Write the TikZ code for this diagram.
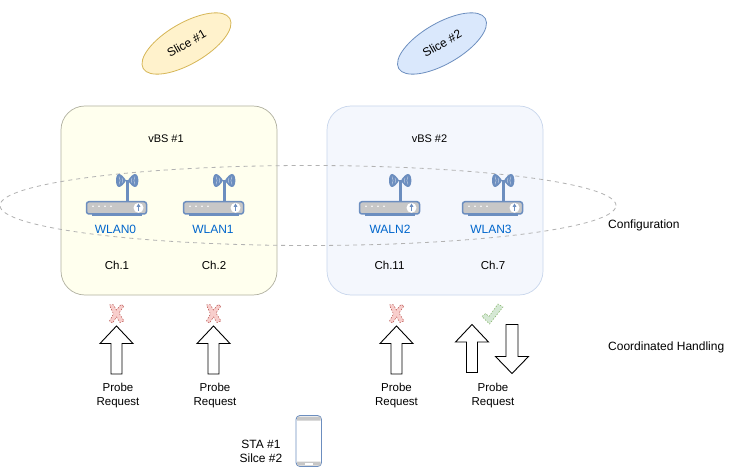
\documentclass[tikz,border=0pt]{standalone}
\usepackage{fontspec}
\setmainfont{Liberation Sans}
\usetikzlibrary{shapes.geometric}
\definecolor{rblue}{HTML}{6C8EBF}
\definecolor{wblue}{HTML}{0066CC}
\definecolor{sliceAfill}{HTML}{FFF2CC}
\definecolor{sliceAdraw}{HTML}{D6B656}
\definecolor{sliceBfill}{HTML}{DAE8FC}
\definecolor{vbsAfill}{HTML}{FFFFEE}
\definecolor{vbsAdraw}{HTML}{B0B0A0}
\definecolor{vbsBfill}{HTML}{F4F7FD}
\definecolor{vbsBdraw}{HTML}{C8D6EC}
\definecolor{xfill}{HTML}{F8CECC}
\definecolor{xdraw}{HTML}{B85450}
\definecolor{cfill}{HTML}{D5E8D4}
\definecolor{cdraw}{HTML}{82B366}
\tikzset{
  lbl/.style={font=\fontsize{12}{14}\selectfont,align=center,inner sep=0pt,text=black},
  small/.style={font=\fontsize{11}{13}\selectfont,align=center,inner sep=0pt,text=black},
  mid/.style={font=\fontsize{11.5}{14}\selectfont,align=center,inner sep=0pt,text=black},
  wlan/.style={font=\fontsize{12}{14}\selectfont,inner sep=0pt,text=wblue},
  slice/.style={ellipse,draw,line width=.8pt,rotate=30,minimum width=100pt,minimum height=41pt,inner sep=0pt,font=\fontsize{12}{14}\selectfont},
  vbs/.style={draw,line width=.7pt,rounded corners=24pt},
  arrowshape/.style={draw=black,fill=white,line width=.9pt,line join=miter},
  pics/router/.style={code={
    \draw[rblue,line width=3pt] (0,-21) -- (0,0);
    \fill[rblue] (-1,-20.5) .. controls (-3,-24) and (-6,-27) .. (-8,-27) .. controls (-12,-27) and (-12,-14) .. (-8,-14) .. controls (-6,-14) and (-3,-17) .. (-1,-20.5) -- cycle;
    \fill[rblue] (1,-20.5) .. controls (3,-24) and (6,-27) .. (8,-27) .. controls (12.5,-27) and (12.5,-14) .. (8,-14) .. controls (6,-14) and (3,-17) .. (1,-20.5) -- cycle;
    \draw[rblue!45!white,line width=.5pt]
      (-8,-24.5) .. controls (-6.5,-22) and (-6.5,-19) .. (-8,-16.5)
      (-5,-23) .. controls (-4,-21.5) and (-4,-19.5) .. (-5,-18)
      (8,-24.5) .. controls (6.5,-22) and (6.5,-19) .. (8,-16.5)
      (5,-23) .. controls (4,-21.5) and (4,-19.5) .. (5,-18);
    \fill[rblue] (-35,13) rectangle (15,15.5);
    \draw[rblue,fill=black!22,line width=1.5pt,rounded corners=2.5pt] (-40.5,0.7) rectangle (19.5,13);
    \fill[white] (-34,5.2) circle (.9pt) (-28,5.2) circle (.9pt) (-22,5.2) circle (.9pt) (-16,5.2) circle (.9pt);
    \fill[white] (11.5,6.8) circle (5pt);
    \draw[rblue,line width=1.3pt] (11.5,3.5) -- (11.5,10.5);
    \fill[rblue] (11.5,2.5) -- (9.5,6) -- (13.5,6) -- cycle;
  }},
  pics/crossmark/.style={code={
    \draw[draw=xdraw,dash pattern=on 1.5pt off 1.5pt,line width=.5pt,fill=xfill]
      (-7,-9) -- (-3.5,-9.5) -- (0,-4) -- (4.5,-9.5) -- (7.5,-8) -- (2.5,-1) -- (7.5,7) -- (3.5,8.5) -- (0,3) -- (-4,9) -- (-7,7) -- (-3,0) -- cycle;
  }},
  pics/checkmark/.style={code={
    \draw[draw=cdraw,dash pattern=on 1.5pt off 1.5pt,line width=.5pt,fill=cfill]
      (-10.5,2.5) -- (-7,-0.5) -- (-3.5,2.5) -- (5.5,-10) -- (10.5,-7) -- (-3,10) -- cycle;
  }},
  pics/uparrow/.style={code={
    \draw[arrowshape] (0,0) -- (16.5,17.5) -- (5.5,17.5) -- (5.5,48) -- (-5.5,48) -- (-5.5,17.5) -- (-16.5,17.5) -- cycle;
  }},
  pics/downarrow/.style={code={
    \draw[arrowshape] (0,49) -- (16.5,32) -- (6,32) -- (6,0) -- (-6,0) -- (-6,32) -- (-16.5,32) -- cycle;
  }}
}
\begin{document}
\begin{tikzpicture}[x=1pt,y=-1pt]
\useasboundingbox (0,0) rectangle (737,468);
\fill[white] (0,0) rectangle (737,468);

\node[slice,draw=sliceAdraw,fill=sliceAfill] (slice1) at (186.5,43.5) {Slice \#1};
\node[slice,draw=rblue,fill=sliceBfill] (slice2) at (442,43.5) {Slice \#2};

\draw[vbs,draw=vbsAdraw,fill=vbsAfill] (61,106) rectangle (277,295);
\draw[vbs,draw=vbsBdraw,fill=vbsBfill] (327,106) rectangle (543,295);
\node[small] (vbs1) at (166,139) {vBS \#1};
\node[small] (vbs2) at (429.5,139) {vBS \#2};

\node[draw=black!30,dash pattern=on 4pt off 4pt,ellipse,line width=.8pt,minimum width=616pt,minimum height=80pt,inner sep=0pt] (conf) at (308,205.5) {};

\pic at (127,201) {router};
\pic at (224,201) {router};
\pic at (400,201) {router};
\pic at (503,201) {router};

\node[wlan] (w0) at (115.5,229) {WLAN0};
\node[wlan] (w1) at (213,229) {WLAN1};
\node[wlan] (w2) at (390,229) {WALN2};
\node[wlan] (w3) at (491,229) {WLAN3};

\node[mid] (c1) at (117,265) {Ch.1};
\node[mid] (c2) at (214,265) {Ch.2};
\node[mid] (c3) at (389.5,265) {Ch.11};
\node[mid] (c4) at (493,265) {Ch.7};

\node[lbl,anchor=west] (cfg) at (608,225) {Configuration};
\node[lbl,anchor=west] (coord) at (608,347) {Coordinated Handling};

\pic at (116.5,314) {crossmark};
\pic at (213.5,314) {crossmark};
\pic at (396.5,314) {crossmark};
\pic at (492.5,314) {checkmark};

\pic at (116.5,326) {uparrow};
\pic at (213.5,326) {uparrow};
\pic at (396.5,326) {uparrow};
\pic at (472,324.5) {uparrow};
\pic at (512,324.5) {downarrow};

\node[mid] (p1) at (118,396) {Probe\\Request};
\node[mid] (p2) at (215,396) {Probe\\Request};
\node[mid] (p3) at (396.5,396) {Probe\\Request};
\node[mid] (p4) at (493,396) {Probe\\Request};

\node[lbl] (sta) at (261,451) {STA \#1\\Silce \#2};

% phone
\draw[rblue,fill=white,line width=.9pt,rounded corners=4pt] (296,415.5) rectangle (321.5,466.5);
\fill[black!22] (297,419.5) -- (297,417.5) -- (298,416.5) -- (319.5,416.5) -- (320.5,417.5) -- (320.5,420.5) -- (297,420.5) -- cycle;
\fill[black!22] (297,461.5) -- (320.5,461.5) -- (320.5,464.5) -- (319.5,465.5) -- (298,465.5) -- (297,464.5) -- cycle;
\fill[white] (305,463) rectangle (313,464.5);
\end{tikzpicture}
\end{document}
